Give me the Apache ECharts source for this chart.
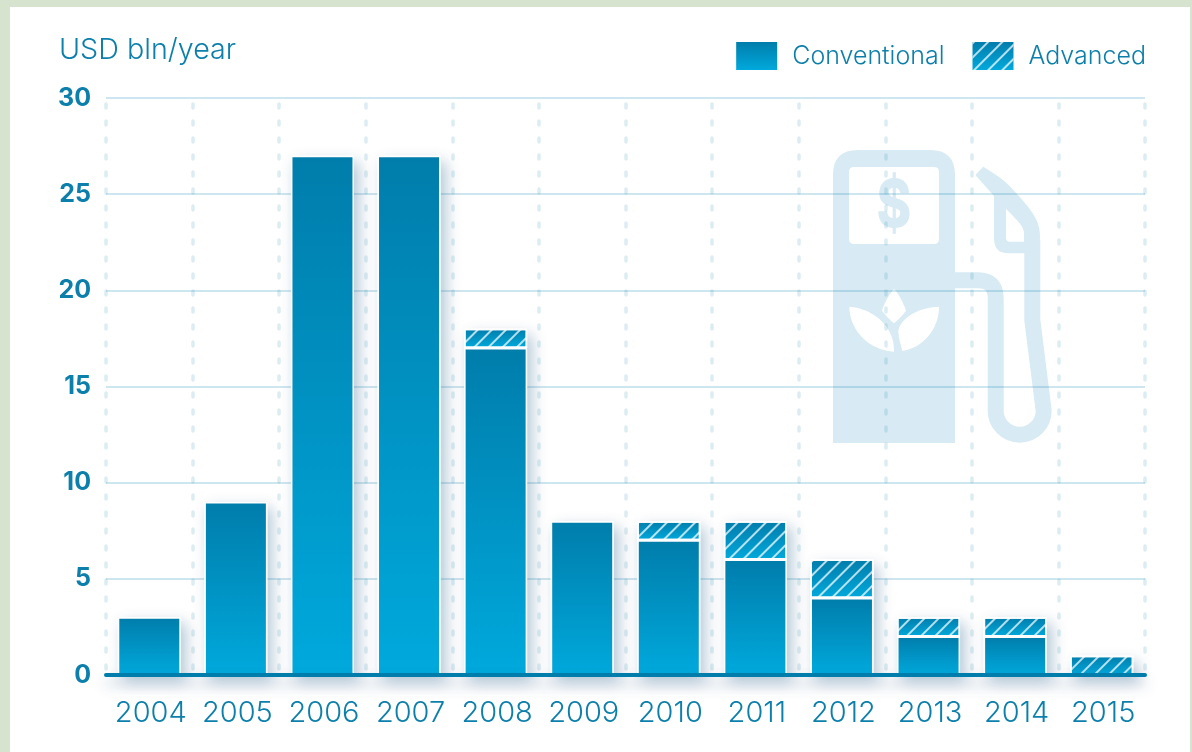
<!DOCTYPE html>
<html>
<head>
<meta charset="utf-8">
<style>
html,body{margin:0;padding:0;width:1192px;height:752px;overflow:hidden;background:#d5e3cf}
#panel{position:absolute;left:10px;top:7px;width:1180px;height:745px;background:#fff}
#chart{position:absolute;left:0;top:0;width:1192px;height:752px}
</style>
<script src="https://cdn.jsdelivr.net/npm/echarts@6/dist/echarts.min.js"></script>
</head>
<body>
<div id="panel"></div>
<div id="chart"></div>
<script>
const years = ['2004','2005','2006','2007','2008','2009','2010','2011','2012','2013','2014','2015'];
const conventional = [3,9,27,27,17,8,7,6,4,2,2,null];
const advanced = [null,null,null,null,1,null,1,2,2,1,1,1];
const yTicks = {min:0,max:30,interval:5};
const totals = years.map((_,i)=>(conventional[i]||0)+(advanced[i]||0));

const FONT = 'Inter';
const TEXT = '#0d7fab';
const ICON = '#d8eaf3';
const barFill = {type:'linear',x:0,y:0,x2:0,y2:1,colorStops:[{offset:0,color:'#007dab'},{offset:1,color:'#00a9dc'}]};

const bodyPath = 'M858,150 H930 Q955,150 955,175 V443 H833 V175 Q833,150 858,150 Z '
 + 'M854,167 Q849,167 849,172 V239 Q849,244 854,244 H934 Q939,244 939,239 V172 Q939,167 934,167 Z '
 + 'M849.3,306.7 C850,332 870,350 894,351.7 C894,345 893,340 891.7,336.7 C887,322 870,308 849.3,306.7 Z '
 + 'M894,289 C889,294 884,304 882,310.7 C886,316 890,320 894,323.3 C898,320 902,316 906,310.7 C904,304 899,294 894,289 Z '
 + 'M939,306.7 C917,307 899,320 898.3,331.7 C898.5,338 901,345 902.3,351 C922,348 939,330 939,306.7 Z';
const hosePath = 'M955,280.3 H978 Q995.7,280.3 995.7,298 V410.7 A24,24 0 0 0 1043.7,410.7 L1032.3,320 V240';
const nozzlePath = 'M983.3,166.7 L975.3,175 L994,196 V238.3 Q994,253.3 1008.3,253.3 H1040 V235 C1040,220 1030,207 1006.7,183.3 C1000,177 992,172 983.3,166.7 Z '
 + 'M1006,209 C1016,219 1024,226 1024,233.3 V241.7 H1010 Q1006,241.7 1006,238 Z';
echarts.graphic.registerShape('iconBody', echarts.graphic.extendPath(bodyPath));
echarts.graphic.registerShape('iconHose', echarts.graphic.extendPath(hosePath));
echarts.graphic.registerShape('iconNozzle', echarts.graphic.extendPath(nozzlePath));

const chart = echarts.init(document.getElementById('chart'),null,{renderer:'canvas'});
chart.setOption({
  animation:false,
  backgroundColor:'transparent',
  title:{text:'USD bln/year',left:54,top:31,textStyle:{fontFamily:FONT,fontWeight:300,fontSize:28.7,color:TEXT}},
  legend:{
    right:41,top:37,itemWidth:41,itemHeight:28,itemGap:28,icon:'rect',
    data:['Conventional','Advanced'],
    itemStyle:{borderWidth:0},
    textStyle:{fontFamily:FONT,fontWeight:300,fontSize:25,color:TEXT,padding:[0,0,0,10]}
  },
  grid:{left:106,right:47,top:98,bottom:77,containLabel:false},
  xAxis:[
    {type:'category',data:years,position:'bottom',
     axisLine:{show:false},axisTick:{show:false},
     axisLabel:{fontFamily:FONT,fontWeight:300,fontSize:29,color:TEXT,margin:24,interval:0,padding:[0,0,0,3]},
     splitLine:{show:true,interval:0,lineStyle:{color:'rgba(0,125,171,0.14)',width:3.5,type:[4,13],cap:'round',dashOffset:-6}}},
    {type:'category',data:years,position:'bottom',z:5,
     axisLine:{show:true,lineStyle:{color:'#007dab',width:4,shadowColor:'rgba(0,70,120,0.3)',shadowBlur:14,shadowOffsetY:8}},
     axisTick:{show:false},axisLabel:{show:false},splitLine:{show:false}}
  ],
  yAxis:{type:'value',min:yTicks.min,max:yTicks.max,interval:yTicks.interval,
    axisLine:{show:false},axisTick:{show:false},
    axisLabel:{fontFamily:FONT,fontWeight:700,fontSize:25,color:TEXT,margin:15},
    splitLine:{show:true,lineStyle:{color:'rgba(0,125,171,0.26)',width:1.5}}},
  graphic:{elements:[
    {type:'iconBody',z:-1,silent:true,style:{fill:ICON}},
    {type:'iconHose',z:-1,silent:true,style:{fill:'none',stroke:ICON,lineWidth:16}},
    {type:'iconNozzle',z:-1,silent:true,style:{fill:ICON}},
    {type:'text',z:-1,silent:true,x:894,y:207,scaleX:0.8,style:{text:'$',fill:ICON,font:'800 66px '+FONT,align:'center',verticalAlign:'middle'}}
  ]},
  series:[
    {name:'halo',type:'bar',z:1,barWidth:63,barGap:'-100%',data:totals,silent:true,
     itemStyle:{color:'#fff',shadowColor:'rgba(0,70,120,0.3)',shadowBlur:14,shadowOffsetX:5,shadowOffsetY:6}},
    {name:'Conventional',type:'bar',stack:'t',z:3,barWidth:63,barGap:'-100%',data:conventional,
     itemStyle:{color:barFill,borderColor:'#fff',borderWidth:1.5}},
    {name:'Advanced',type:'bar',stack:'t',z:2,barWidth:63,barGap:'-100%',data:advanced,
     itemStyle:{color:barFill,borderColor:'#fff',borderWidth:1.5,
       decal:{symbol:'rect',symbolSize:1,color:'rgba(255,255,255,0.72)',dashArrayX:[1,0],dashArrayY:[2,8],rotation:-Math.PI/4}}}
  ]
});
</script>
</body>
</html>
